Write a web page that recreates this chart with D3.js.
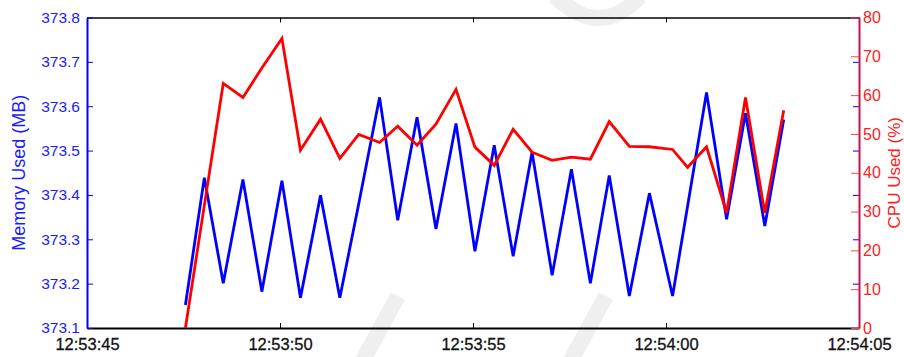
<!DOCTYPE html>
<html>
<head>
<meta charset="utf-8">
<script src="https://cdn.jsdelivr.net/npm/d3@7"></script>
<style>
  body { margin: 0; background: #fff; }
  svg { display: block; font-family: "Liberation Sans", Arial, sans-serif; }
</style>
</head>
<body>
<script>
// sample timestamps (shared by both series)
var times = [
  "12:53:47.550", "12:53:48.040", "12:53:48.530", "12:53:49.040", "12:53:49.530",
  "12:53:50.050", "12:53:50.530", "12:53:51.050", "12:53:51.550", "12:53:52.040",
  "12:53:52.580", "12:53:53.050", "12:53:53.550", "12:53:54.040", "12:53:54.560",
  "12:53:55.050", "12:53:55.550", "12:53:56.040", "12:53:56.530", "12:53:57.050",
  "12:53:57.550", "12:53:58.040", "12:53:58.530", "12:53:59.050", "12:53:59.570",
  "12:54:00.170", "12:54:00.560", "12:54:01.050", "12:54:01.570", "12:54:02.060",
  "12:54:02.560", "12:54:03.050"
];
var memoryMB = [
  373.152, 373.439, 373.201, 373.435, 373.182, 373.432, 373.168, 373.399,
  373.168, 373.380, 373.620, 373.343, 373.575, 373.323, 373.561, 373.273,
  373.512, 373.262, 373.496, 373.219, 373.458, 373.201, 373.444, 373.172,
  373.404, 373.172, 373.375, 373.631, 373.345, 373.584, 373.330, 373.570
];
var cpuPct = [
  0.0, 31.6, 63.0, 59.4, 67.0, 74.6, 45.8, 53.8,
  43.7, 49.9, 47.8, 52.0, 47.1, 52.5, 61.5, 46.6,
  41.9, 51.2, 45.3, 43.2, 44.0, 43.5, 53.2, 46.8,
  46.7, 46.0, 41.4, 46.7, 29.7, 59.4, 29.6, 56.1
];
var xTicks = ["12:53:45", "12:53:50", "12:53:55", "12:54:00", "12:54:05"];
var memTicks = [373.1, 373.2, 373.3, 373.4, 373.5, 373.6, 373.7, 373.8];
var cpuTicks = [0, 10, 20, 30, 40, 50, 60, 70, 80];

var width = 904, height = 357;
var plotL = 87, plotR = 859, plotT = 17.5, plotB = 328;

var parseMs = d3.timeParse("%H:%M:%S.%L");
var parseS = d3.timeParse("%H:%M:%S");

var svg = d3.select("body").append("svg")
  .attr("width", width).attr("height", height);

// faint watermark strokes in the background
var wm = svg.append("g").attr("fill", "none").attr("stroke", "#efefef").attr("stroke-width", 16);
wm.append("path").attr("d", "M555,-4 Q600,40 640,-4");
wm.append("path").attr("d", "M398,296 L362,362");
wm.append("path").attr("d", "M606,296 L570,362");

var x = d3.scaleTime()
  .domain([parseS(xTicks[0]), parseS(xTicks[xTicks.length - 1])])
  .range([plotL, plotR]);
var yMem = d3.scaleLinear().domain([373.1, 373.8]).range([plotB, plotT]);
var yCpu = d3.scaleLinear().domain([0, 80]).range([plotB, plotT]);

var mem = times.map(function (t, i) { return { t: parseMs(t), v: memoryMB[i] }; });
var cpu = times.map(function (t, i) { return { t: parseMs(t), v: cpuPct[i] }; });

// bottom axis
var xBottom = d3.axisBottom(x)
  .tickValues(xTicks.map(parseS))
  .tickFormat(d3.timeFormat("%H:%M:%S"))
  .tickSizeInner(-5).tickSizeOuter(0).tickPadding(10);
var gx = svg.append("g").attr("transform", "translate(0," + plotB + ")").call(xBottom);
gx.select(".domain").attr("stroke", "#000").attr("stroke-width", 2);
gx.selectAll(".tick line").attr("stroke", "#000");
gx.selectAll("text").attr("font-size", 16.5).attr("fill", "#111")
  .attr("stroke", "#111").attr("stroke-width", 0.3);

// top axis (ticks only)
var xTop = d3.axisTop(x)
  .tickValues(xTicks.map(parseS))
  .tickSizeInner(-5).tickSizeOuter(0).tickFormat("");
var gxt = svg.append("g").attr("transform", "translate(0," + plotT + ")").call(xTop);
gxt.select(".domain").attr("stroke", "#000").attr("stroke-width", 1.5);
gxt.selectAll(".tick line").attr("stroke", "#000");

// mirrored memory ticks on right edge
var memRight = d3.axisRight(yMem).tickValues(memTicks).tickSizeInner(-6).tickSizeOuter(0).tickFormat("");
var gmr = svg.append("g").attr("transform", "translate(" + plotR + ",0)").call(memRight);
gmr.select(".domain").remove();
gmr.selectAll(".tick line").attr("stroke", "#0000ff");

// left axis (memory)
var yLeft = d3.axisLeft(yMem).tickValues(memTicks).tickFormat(d3.format(".1f"))
  .tickSizeInner(-6).tickSizeOuter(0).tickPadding(7);
var gl = svg.append("g").attr("transform", "translate(" + plotL + ",0)").call(yLeft);
gl.select(".domain").attr("stroke", "#0000ff").attr("stroke-width", 2);
gl.selectAll(".tick line").attr("stroke", "#0000ff");
gl.selectAll("text").attr("font-size", 15.5).attr("fill", "#1a1aff");

// right axis (cpu)
var yRight = d3.axisRight(yCpu).tickValues(cpuTicks)
  .tickSizeInner(-8).tickSizeOuter(0).tickPadding(4);
var gr = svg.append("g").attr("transform", "translate(" + plotR + ",0)").call(yRight);
gr.select(".domain").attr("stroke", "#c8104a").attr("stroke-width", 2);
gr.selectAll(".tick line").attr("stroke", "#ff4040");
gr.selectAll("text").attr("font-size", 16).attr("fill", "#ff2020");

// series
var memLine = d3.line().x(function (d) { return x(d.t); }).y(function (d) { return yMem(d.v); });
var cpuLine = d3.line().x(function (d) { return x(d.t); }).y(function (d) { return yCpu(d.v); });

svg.append("path").datum(mem)
  .attr("d", memLine).attr("fill", "none")
  .attr("stroke", "#0000ff").attr("stroke-width", 2.8).attr("stroke-linejoin", "miter");
svg.append("path").datum(cpu)
  .attr("d", cpuLine).attr("fill", "none")
  .attr("stroke", "#ff0000").attr("stroke-width", 2.8).attr("stroke-linejoin", "miter");

// axis titles
svg.append("text")
  .attr("transform", "translate(25," + (plotT + plotB) / 2 + ") rotate(-90)")
  .attr("text-anchor", "middle")
  .attr("font-size", 18).attr("fill", "#1a1aff")
  .text("Memory Used (MB)");
svg.append("text")
  .attr("transform", "translate(900," + (plotT + plotB) / 2 + ") rotate(-90)")
  .attr("text-anchor", "middle")
  .attr("font-size", 17).attr("fill", "#ff2020")
  .text("CPU Used (%)");
</script>
</body>
</html>
